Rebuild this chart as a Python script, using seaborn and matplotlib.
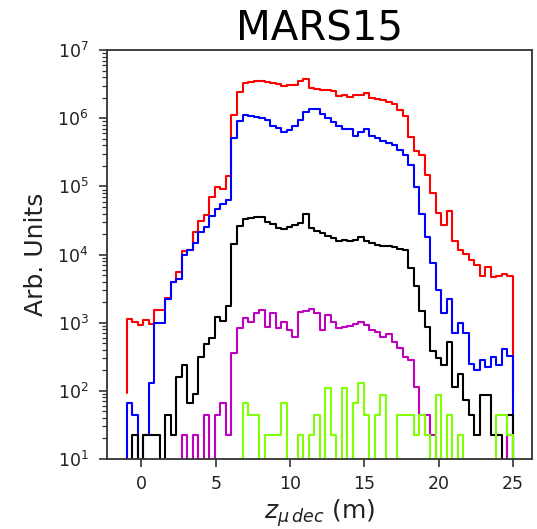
import numpy as np
import pandas as pd
import matplotlib
matplotlib.use("Agg")
import matplotlib.pyplot as plt
import seaborn as sns

# ---------------- data (weighted counts per bin, 70 bins from -1 m to 25 m) -------------
bin_lo, bin_hi, n_bins = -1.0, 25.0, 70

red = [1140, 1020, 910, 1100, 940, 1550, 1550, 2300, 3900, 5600,
       11200, 11500, 21600, 31000, 38000, 71000, 99000, 91000, 142000, 1.12e6,
       2.4e6, 3.3e6, 3.4e6, 3.5e6, 3.55e6, 3.4e6, 3.3e6, 3.2e6, 2.95e6, 3.05e6,
       3.05e6, 3.5e6, 3.8e6, 2.83e6, 2.7e6, 2.6e6, 2.6e6, 2.5e6, 2.15e6, 2.2e6,
       2.08e6, 2.2e6, 2.2e6, 2.35e6, 1.97e6, 1.9e6, 1.87e6, 1.76e6, 1.62e6, 1.33e6,
       1.08e6, 5.3e5, 3.3e5, 2.9e5, 1.47e5, 7.9e4, 4.1e4, 2.7e4, 4.3e4, 1.6e4,
       1.15e4, 1.03e4, 8300, 7000, 4800, 6500, 4700, 4900, 5100, 4800]

blue = [66, 44, 0, 22, 130, 980, 980, 2200, 4000, 4300,
        9800, 11800, 15000, 21500, 25000, 37000, 47000, 55000, 64000, 5.2e5,
        9.2e5, 1.12e6, 1.07e6, 1.05e6, 1.02e6, 9.4e5, 7.8e5, 7.1e5, 6.3e5, 6.7e5,
        7.8e5, 9.5e5, 1.22e6, 1.37e6, 1.37e6, 1.15e6, 1.0e6, 8.7e5, 7.6e5, 6.9e5,
        6.9e5, 5.5e5, 6.3e5, 6.9e5, 5.5e5, 5.1e5, 4.7e5, 4.4e5, 4.1e5, 3.4e5,
        2.9e5, 2.05e5, 9.8e4, 4.0e4, 1.8e4, 7400, 3000, 1400, 2200, 700,
        1000, 700, 250, 200, 285, 220, 315, 235, 410, 318]

black = [0, 22, 0, 22, 22, 22, 0, 44, 22, 160,
         235, 66, 88, 315, 480, 600, 1200, 1050, 1770, 14300,
         26000, 33000, 34000, 35000, 35000, 30000, 28000, 24300, 23700, 25700,
         27000, 29000, 39500, 24500, 22000, 20500, 19000, 17500, 16000, 16500,
         16000, 16500, 18000, 16000, 15000, 14000, 13500, 13500, 13000, 12000,
         11500, 6300, 3400, 1500, 850, 380, 300, 240, 525, 112,
         175, 72, 44, 22, 86, 86, 22, 22, 0, 44]

magenta = [0, 0, 0, 0, 0, 0, 0, 0, 0, 0,
           22, 0, 22, 0, 44, 0, 44, 66, 22, 355,
           820, 1150, 1030, 1360, 1530, 850, 1400, 820, 1030, 780,
           620, 1450, 1480, 1580, 1400, 790, 1290, 1030, 820, 870,
           890, 950, 1030, 920, 780, 730, 620, 690, 520, 420,
           315, 280, 112, 44, 44, 22, 0, 0, 0, 0,
           0, 0, 0, 0, 0, 0, 0, 0, 0, 22]

green = [0, 0, 0, 0, 0, 0, 0, 0, 0, 0,
         0, 0, 0, 0, 0, 0, 0, 0, 0, 0,
         0, 66, 44, 44, 0, 22, 22, 22, 66, 0,
         0, 22, 0, 22, 44, 0, 108, 22, 0, 108,
         0, 66, 130, 44, 0, 44, 87, 0, 0, 44,
         44, 44, 22, 44, 22, 0, 87, 0, 44, 0,
         22, 0, 0, 0, 0, 0, 0, 44, 44, 22]

series = {"red": red, "blue": blue, "black": black, "magenta": magenta, "green": green}
colors = {"red": "#ff0000", "blue": "#0000ff", "black": "#000000",
          "magenta": "#bf00bf", "green": "#7fff00"}

title = "MARS15"
xlabel = r"$z_{\mu\,dec}$ (m)"
ylabel = "Arb. Units"
xticks = [0, 5, 10, 15, 20, 25]

# ---------------- plotting ------------------------------------------------------------
sns.set_theme(style="ticks")
plt.rcParams["font.family"] = ["DejaVu Sans"]

edges = np.linspace(bin_lo, bin_hi, n_bins + 1)
centers = 0.5 * (edges[:-1] + edges[1:])

fig = plt.figure(figsize=(5.37, 5.29), dpi=100)
ax = fig.add_axes([0.1998, 0.1329, 0.7914, 0.772])

for name, vals in series.items():
    vals = np.asarray(vals, dtype=float)
    df = pd.DataFrame({"z": centers, "w": vals})
    sns.histplot(data=df, x="z", weights="w", bins=edges.tolist(), element="step",
                 fill=False, color=colors[name], linewidth=1.5, ax=ax)
    line = ax.lines[-1]
    x, y = line.get_data()
    base = vals[vals > 0].min() / 10.0   # matplotlib log-hist baseline
    line.set_data(np.r_[x[0], x, x[-1]], np.r_[base, y, base])

ax.set_yscale("log")
ax.set_ylim(10, 1e7)
span = bin_hi - bin_lo
ax.set_xlim(bin_lo - 0.05 * span, bin_hi + 0.05 * span)
ax.set_xticks(xticks)

for s in ax.spines.values():
    s.set_color("#333333")
    s.set_linewidth(1.3)

ax.tick_params(axis="both", which="major", labelsize=12.5, length=6, width=1.2,
               color="#333333", labelcolor="#222222")
ax.tick_params(axis="y", which="major", pad=7.5)
ax.tick_params(axis="x", which="major", pad=6)
ax.tick_params(axis="y", which="minor", length=3.5, width=0.9, color="#333333")

ax.set_title(title, fontsize=29, pad=7, color="black")
ax.set_xlabel(xlabel, fontsize=18, labelpad=2.5, color="#222222")
ax.set_ylabel(ylabel, fontsize=18, labelpad=7, color="#222222")

fig.savefig("out.png", dpi=100)
